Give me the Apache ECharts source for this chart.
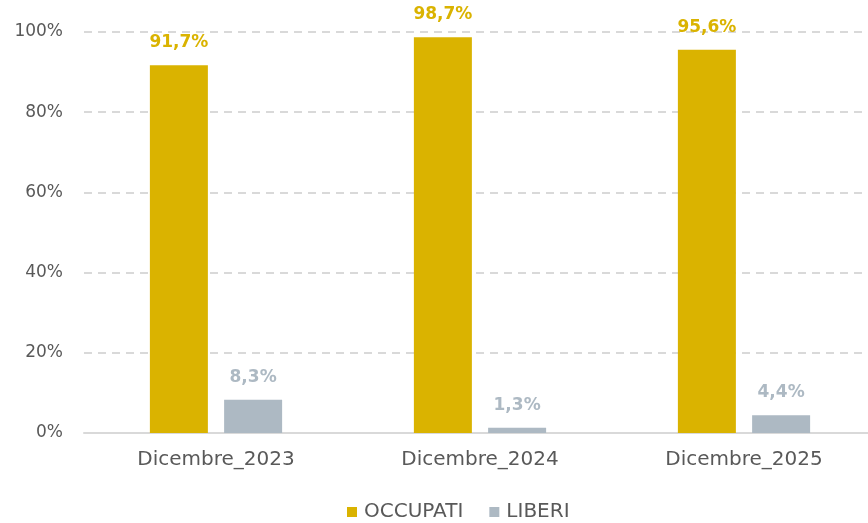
<!DOCTYPE html>
<html>
<head>
<meta charset="utf-8">
<script src="https://cdn.jsdelivr.net/npm/echarts@6/dist/echarts.min.js"></script>
<style>
  html, body { margin: 0; padding: 0; background: #ffffff; overflow: hidden; }
  #main { width: 876px; height: 523px; }
</style>
</head>
<body>
<div id="main"></div>
<script>
var categories = ['Dicembre_2023', 'Dicembre_2024', 'Dicembre_2025'];
var occupati = [91.7, 98.7, 95.6];
var liberi = [8.3, 1.3, 4.4];
var yTicks = [0, 20, 40, 60, 80, 100];

var chart = echarts.init(document.getElementById('main'));

function pctLabel(p) {
  return p.value.toFixed(1).replace('.', ',') + '%';
}

var option = {
  backgroundColor: '#ffffff',
  color: ['#DAB300', '#ADB9C3'],
  textStyle: { fontFamily: 'DejaVu Sans' },
  // plot area runs a little past the right edge of the window, as in the original
  grid: { left: 84, right: 0, top: 32, bottom: 90 },
  legend: {
    left: 342,
    top: 497,
    itemWidth: 10,
    itemHeight: 10,
    itemGap: 26,
    icon: 'rect',
    textStyle: { fontSize: 20, color: '#595959', fontFamily: 'DejaVu Sans', padding: [0, 0, 0, 2] },
    data: ['OCCUPATI', 'LIBERI']
  },
  xAxis: {
    type: 'category',
    data: categories,
    axisTick: { show: false },
    axisLine: { lineStyle: { color: '#D9D9D9', width: 2 } },
    axisLabel: { fontSize: 20, color: '#595959', margin: 17, fontFamily: 'DejaVu Sans' }
  },
  yAxis: {
    type: 'value',
    min: yTicks[0],
    max: yTicks[yTicks.length - 1],
    interval: 20,
    axisLine: { show: false },
    axisTick: { show: false },
    axisLabel: { fontSize: 17, color: '#595959', margin: 21, formatter: '{value}%', padding: [4, 0, 0, 0] },
    splitLine: { lineStyle: { color: '#D9D9D9', width: 2, type: [8, 6] } }
  },
  series: [{
    name: 'OCCUPATI',
    type: 'bar',
    data: occupati,
    barWidth: 58,
    barGap: '28%',
    label: {
      show: true,
      position: 'top',
      distance: 14,
      formatter: pctLabel,
      color: '#DAB300',
      fontSize: 17,
      fontWeight: 'bold'
    }
  }, {
    name: 'LIBERI',
    type: 'bar',
    data: liberi,
    barWidth: 58,
    label: {
      show: true,
      position: 'top',
      distance: 14,
      formatter: pctLabel,
      color: '#ADB9C3',
      fontSize: 17,
      fontWeight: 'bold'
    }
  }]
};

chart.setOption(option);
</script>
</body>
</html>
